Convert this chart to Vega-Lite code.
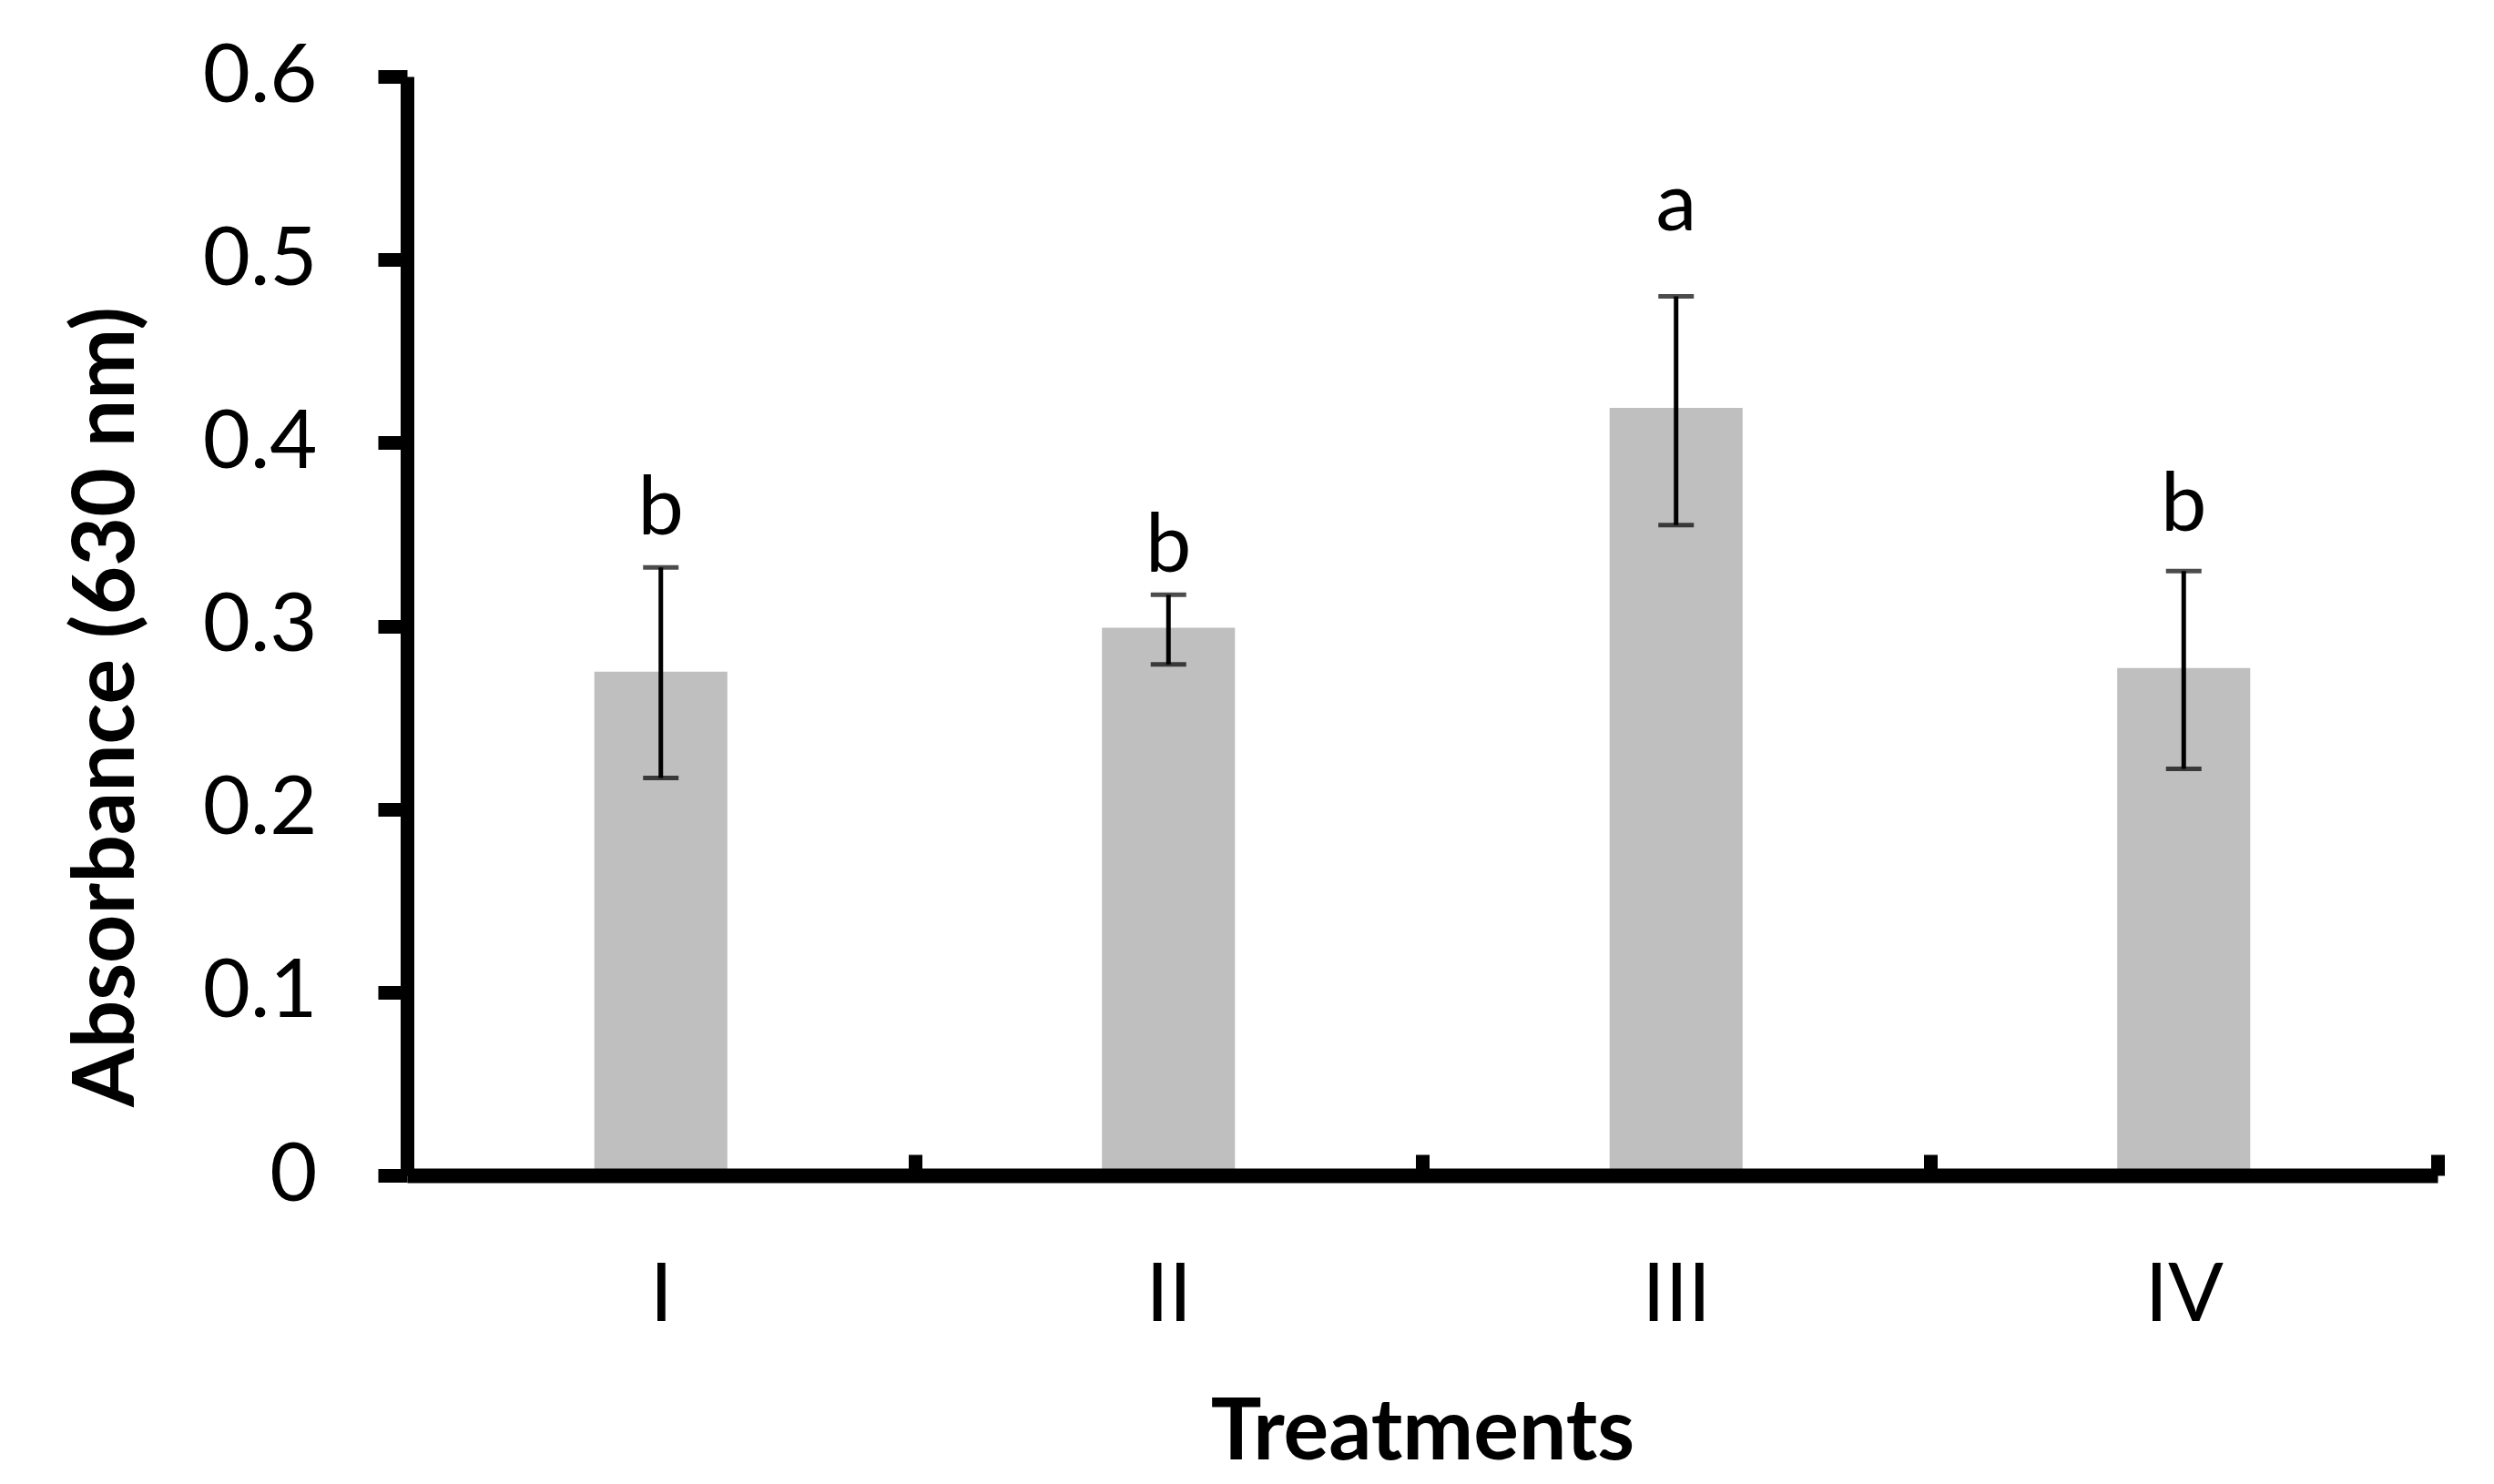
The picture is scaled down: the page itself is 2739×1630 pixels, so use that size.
{
  "$schema": "https://vega.github.io/schema/vega-lite/v6.json",
  "width": 2230,
  "height": 1207,
  "autosize": "none",
  "padding": {"left": 447, "top": 84, "right": 62, "bottom": 339},
  "background": "white",
  "config": {"view": {"stroke": null}, "font": "Lato"},
  "data": {
    "values": [
      {"treatment": "I", "mean": 0.275, "lo": 0.217, "hi": 0.332, "letter": "b", "letter_y": 0.350},
      {"treatment": "II", "mean": 0.299, "lo": 0.279, "hi": 0.317, "letter": "b", "letter_y": 0.3295},
      {"treatment": "III", "mean": 0.419, "lo": 0.355, "hi": 0.480, "letter": "a", "letter_y": 0.516},
      {"treatment": "IV", "mean": 0.277, "lo": 0.222, "hi": 0.330, "letter": "b", "letter_y": 0.352}
    ]
  },
  "encoding": {
    "x": {
      "field": "treatment",
      "type": "nominal",
      "sort": null,
      "title": "Treatments",
      "scale": {"paddingInner": 0, "paddingOuter": 0},
      "axis": {
        "zindex": 1,
        "labelAngle": 0,
        "domainColor": "black",
        "domainWidth": 16,
        "tickBand": "extent",
        "tickColor": "black",
        "tickWidth": 15,
        "tickSize": -23,
        "labelFont": "Lato",
        "labelFontSize": 90,
        "labelColor": "black",
        "labelBaseline": "alphabetic",
        "labelPadding": 182,
        "titleFont": "Lato",
        "titleFontSize": 93,
        "titleFontWeight": "bold",
        "titleColor": "black",
        "titleBaseline": "alphabetic",
        "titleY": 311
      }
    }
  },
  "layer": [
    {
      "mark": {"type": "bar", "color": "#bfbfbf", "width": {"band": 0.262}},
      "encoding": {
        "y": {
          "field": "mean",
          "type": "quantitative",
          "title": "Absorbance (630 nm)",
          "scale": {"domain": [0, 0.6], "nice": false, "zero": true},
          "axis": {
            "zindex": 1,
            "values": [0, 0.1, 0.2, 0.3, 0.4, 0.5, 0.6],
            "format": "~g",
            "grid": false,
            "domainColor": "black",
            "domainWidth": 15,
            "tickColor": "black",
            "tickWidth": 15,
            "tickSize": 32,
            "labelFont": "Lato",
            "labelFontSize": 90,
            "labelColor": "black",
            "labelPadding": 67,
            "labelBaseline": "middle",
            "titleFont": "Lato",
            "titleFontSize": 93,
            "titleFontWeight": "bold",
            "titleColor": "black",
            "titleAngle": 270,
            "titleAlign": "center",
            "titleBaseline": "alphabetic",
            "titleX": -301,
            "titleY": 692
          }
        }
      }
    },
    {
      "mark": {"type": "rule", "strokeWidth": 5, "color": "black"},
      "encoding": {
        "y": {"field": "lo", "type": "quantitative", "title": "Absorbance (630 nm)"},
        "y2": {"field": "hi"}
      }
    },
    {
      "mark": {"type": "tick", "size": 39, "thickness": 5, "color": "black"},
      "encoding": {
        "y": {"field": "lo", "type": "quantitative", "title": "Absorbance (630 nm)"}
      }
    },
    {
      "mark": {"type": "tick", "size": 39, "thickness": 5, "color": "black"},
      "encoding": {
        "y": {"field": "hi", "type": "quantitative", "title": "Absorbance (630 nm)"}
      }
    },
    {
      "mark": {"type": "text", "font": "Lato", "fontSize": 90, "baseline": "alphabetic", "align": "center", "color": "black"},
      "encoding": {
        "y": {"field": "letter_y", "type": "quantitative", "title": "Absorbance (630 nm)"},
        "text": {"field": "letter"}
      }
    }
  ]
}
